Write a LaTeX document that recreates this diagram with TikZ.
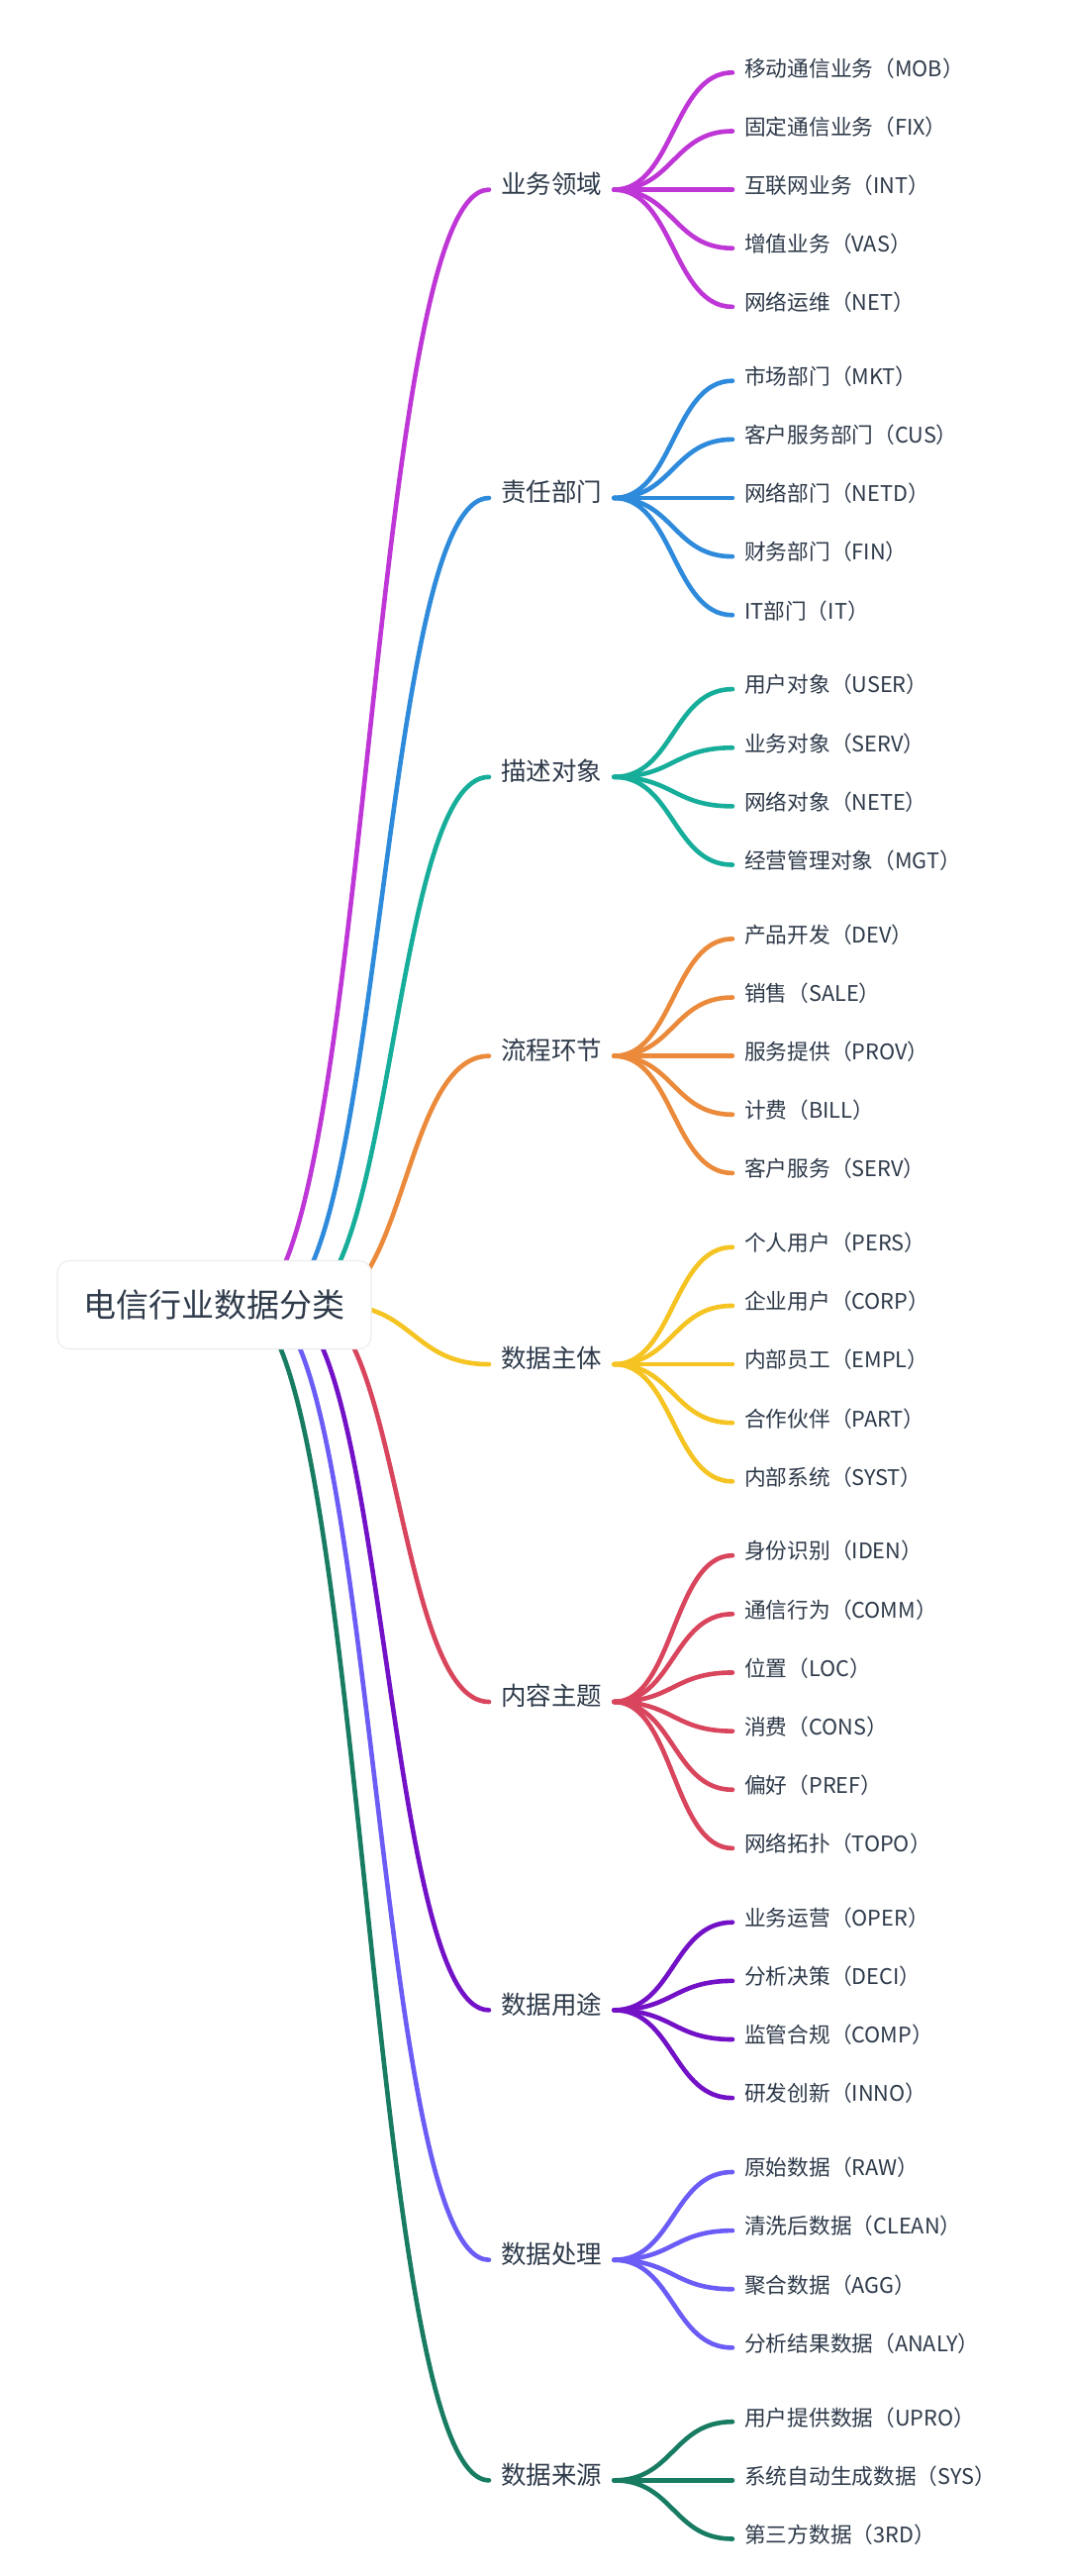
\documentclass[tikz,border=0pt]{standalone}
\usepackage{fontspec}
\setmainfont{Noto Sans CJK SC}
\usetikzlibrary{calc}
\pgfdeclarelayer{bg}
\pgfsetlayers{bg,main}
\definecolor{textc}{HTML}{2E3A4A}
\definecolor{c0}{HTML}{BF36D6}
\definecolor{c1}{HTML}{2E8ADB}
\definecolor{c2}{HTML}{16AE9A}
\definecolor{c3}{HTML}{EB8A3A}
\definecolor{c4}{HTML}{F5C423}
\definecolor{c5}{HTML}{D8455C}
\definecolor{c6}{HTML}{7311C7}
\definecolor{c7}{HTML}{6B5CF6}
\definecolor{c8}{HTML}{187C63}
\tikzset{
  rootnode/.style={draw=black!7, line width=1.2pt, fill=white, rounded corners=12pt,
    minimum width=317pt, minimum height=89pt, inner sep=0pt, text=textc,
    font=\fontsize{33}{40}\selectfont},
  branch/.style={anchor=west, inner xsep=12pt, inner ysep=0pt, text=textc,
    text height=0.83em, text depth=0.07em, font=\fontsize{25.5}{30}\selectfont},
  leaf/.style={anchor=west, inner xsep=12pt, inner ysep=0pt, text=textc,
    text height=0.83em, text depth=0.07em, font=\fontsize{21.7}{26}\selectfont},
  link/.style={line width=4.6pt, line cap=round},
}
\newcommand{\sublink}[3]{\draw[link,#1] (#2.east) .. controls +(60,0) and +(-60,0) .. (#3.west);}
\begin{document}
\begin{tikzpicture}[x=1pt,y=-1pt]
\useasboundingbox (0,0) rectangle (1080,2602);
\begin{pgfonlayer}{bg}
\fill[white] (0,0) rectangle (1080,2602);
\end{pgfonlayer}

\node[rootnode] (root) at (216.5,1318) {电信行业数据分类};
\coordinate (s0) at (250.0,1318);
\coordinate (s1) at (276.4,1318);
\coordinate (s2) at (300.2,1318);
\coordinate (s3) at (324.1,1318);
\coordinate (s4) at (340.3,1318);
\coordinate (s5) at (311.4,1318);
\coordinate (s6) at (285.1,1318);
\coordinate (s7) at (263.7,1318);
\coordinate (s8) at (244.8,1318);

% branches
\node[branch] (b0) at (494,191.6) {业务领域};
\node[branch] (b1) at (494,503.0) {责任部门};
\node[branch] (b2) at (494,784.8) {描述对象};
\node[branch] (b3) at (494,1066.65) {流程环节};
\node[branch] (b4) at (494,1378.05) {数据主体};
\node[branch] (b5) at (494,1719.0) {内容主题};
\node[branch] (b6) at (494,2030.4) {数据用途};
\node[branch] (b7) at (494,2282.7) {数据处理};
\node[branch] (b8) at (494,2505.35) {数据来源};

% leaves
\node[leaf] (l0a) at (740,73.3) {移动通信业务（MOB）};
\node[leaf] (l0b) at (740,132.45) {固定通信业务（FIX）};
\node[leaf] (l0c) at (740,191.6) {互联网业务（INT）};
\node[leaf] (l0d) at (740,250.75) {增值业务（VAS）};
\node[leaf] (l0e) at (740,309.9) {网络运维（NET）};

\node[leaf] (l1a) at (740,384.7) {市场部门（MKT）};
\node[leaf] (l1b) at (740,443.85) {客户服务部门（CUS）};
\node[leaf] (l1c) at (740,503.0) {网络部门（NETD）};
\node[leaf] (l1d) at (740,562.15) {财务部门（FIN）};
\node[leaf] (l1e) at (740,621.3) {IT部门（IT）};

\node[leaf] (l2a) at (740,696.1) {用户对象（USER）};
\node[leaf] (l2b) at (740,755.25) {业务对象（SERV）};
\node[leaf] (l2c) at (740,814.4) {网络对象（NETE）};
\node[leaf] (l2d) at (740,873.55) {经营管理对象（MGT）};

\node[leaf] (l3a) at (740,948.35) {产品开发（DEV）};
\node[leaf] (l3b) at (740,1007.5) {销售（SALE）};
\node[leaf] (l3c) at (740,1066.65) {服务提供（PROV）};
\node[leaf] (l3d) at (740,1125.8) {计费（BILL）};
\node[leaf] (l3e) at (740,1184.95) {客户服务（SERV）};

\node[leaf] (l4a) at (740,1259.75) {个人用户（PERS）};
\node[leaf] (l4b) at (740,1318.9) {企业用户（CORP）};
\node[leaf] (l4c) at (740,1378.05) {内部员工（EMPL）};
\node[leaf] (l4d) at (740,1437.2) {合作伙伴（PART）};
\node[leaf] (l4e) at (740,1496.35) {内部系统（SYST）};

\node[leaf] (l5a) at (740,1571.15) {身份识别（IDEN）};
\node[leaf] (l5b) at (740,1630.3) {通信行为（COMM）};
\node[leaf] (l5c) at (740,1689.45) {位置（LOC）};
\node[leaf] (l5d) at (740,1748.6) {消费（CONS）};
\node[leaf] (l5e) at (740,1807.75) {偏好（PREF）};
\node[leaf] (l5f) at (740,1866.9) {网络拓扑（TOPO）};

\node[leaf] (l6a) at (740,1941.7) {业务运营（OPER）};
\node[leaf] (l6b) at (740,2000.85) {分析决策（DECI）};
\node[leaf] (l6c) at (740,2060.0) {监管合规（COMP）};
\node[leaf] (l6d) at (740,2119.15) {研发创新（INNO）};

\node[leaf] (l7a) at (740,2193.95) {原始数据（RAW）};
\node[leaf] (l7b) at (740,2253.1) {清洗后数据（CLEAN）};
\node[leaf] (l7c) at (740,2312.25) {聚合数据（AGG）};
\node[leaf] (l7d) at (740,2371.4) {分析结果数据（ANALY）};

\node[leaf] (l8a) at (740,2446.2) {用户提供数据（UPRO）};
\node[leaf] (l8b) at (740,2505.35) {系统自动生成数据（SYS）};
\node[leaf] (l8c) at (740,2564.5) {第三方数据（3RD）};

\begin{pgfonlayer}{bg}
% trunk links
\draw[link,c0] (s0) .. controls +(122.0,0) and +(-122.0,0) .. (b0.west);
\draw[link,c1] (s1) .. controls +(108.8,0) and +(-108.8,0) .. (b1.west);
\draw[link,c2] (s2) .. controls +(96.9,0) and +(-96.9,0) .. (b2.west);
\draw[link,c3] (s3) .. controls +(85.0,0) and +(-85.0,0) .. (b3.west);
\draw[link,c4] (s4) .. controls +(76.9,0) and +(-76.9,0) .. (b4.west);
\draw[link,c5] (s5) .. controls +(91.3,0) and +(-91.3,0) .. (b5.west);
\draw[link,c6] (s6) .. controls +(104.5,0) and +(-104.5,0) .. (b6.west);
\draw[link,c7] (s7) .. controls +(115.2,0) and +(-115.2,0) .. (b7.west);
\draw[link,c8] (s8) .. controls +(124.6,0) and +(-124.6,0) .. (b8.west);
% sub links
\foreach \l in {l0a,l0b,l0c,l0d,l0e}{\sublink{c0}{b0}{\l}}
\foreach \l in {l1a,l1b,l1c,l1d,l1e}{\sublink{c1}{b1}{\l}}
\foreach \l in {l2a,l2b,l2c,l2d}{\sublink{c2}{b2}{\l}}
\foreach \l in {l3a,l3b,l3c,l3d,l3e}{\sublink{c3}{b3}{\l}}
\foreach \l in {l4a,l4b,l4c,l4d,l4e}{\sublink{c4}{b4}{\l}}
\foreach \l in {l5a,l5b,l5c,l5d,l5e,l5f}{\sublink{c5}{b5}{\l}}
\foreach \l in {l6a,l6b,l6c,l6d}{\sublink{c6}{b6}{\l}}
\foreach \l in {l7a,l7b,l7c,l7d}{\sublink{c7}{b7}{\l}}
\foreach \l in {l8a,l8b,l8c}{\sublink{c8}{b8}{\l}}
\end{pgfonlayer}
\end{tikzpicture}
\end{document}
